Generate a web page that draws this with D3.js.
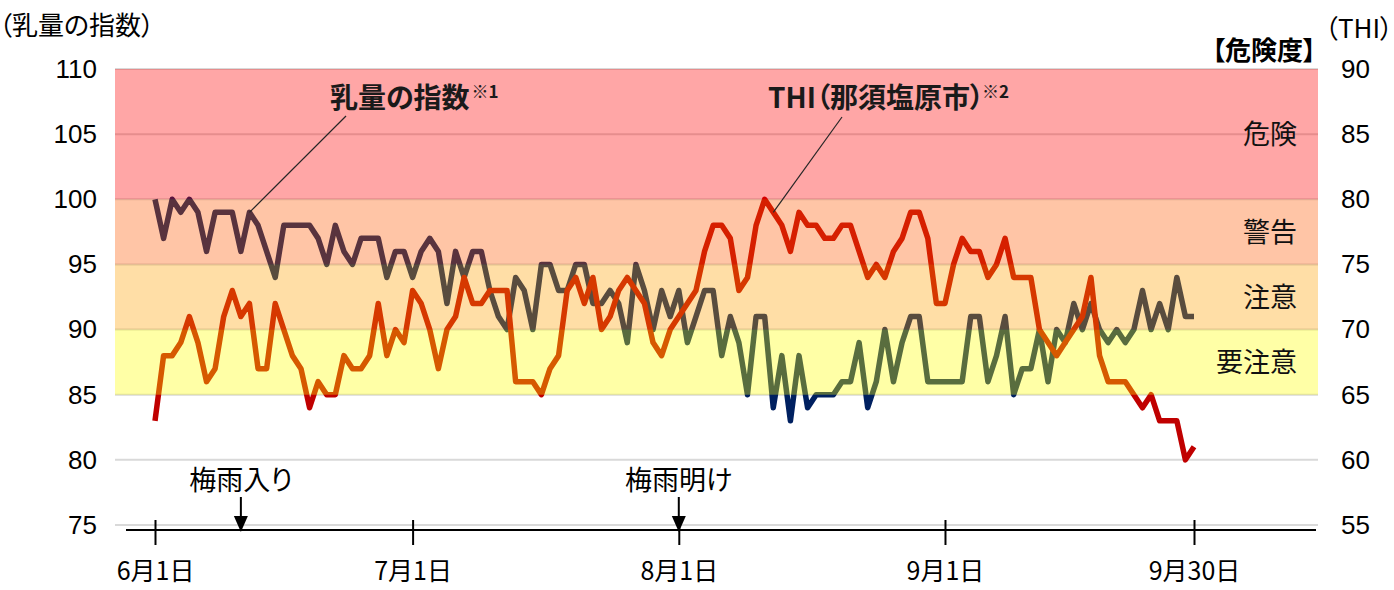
<!DOCTYPE html>
<html>
<head>
<meta charset="utf-8">
<script src="https://cdn.jsdelivr.net/npm/d3@7"></script>
<style>
  body { margin: 0; background: #fff; }
  svg text { font-feature-settings: "palt"; }
</style>
</head>
<body>
<div id="chart"></div>
<script>
var svgWidth = 1394;
var svgHeight = 590;

// daily values, Jun 1 .. Sep 30
var milkIndex = [
  100, 97, 100, 99, 100, 99, 96, 99, 99, 99,
  96, 99, 98, 96, 94, 98, 98, 98, 98, 97,
  95, 98, 96, 95, 97, 97, 97, 94, 96, 96,
  94, 96, 97, 96, 92, 96, 94, 96, 96, 93,
  91, 90, 94, 93, 90, 95, 95, 93, 93, 95,
  95, 92, 92, 93, 92, 89, 95, 93, 90, 93,
  91, 93, 89, 91, 93, 93, 88, 91, 89, 85,
  91, 91, 84, 88, 83, 88, 84, 85, 85, 85,
  86, 86, 89, 84, 86, 90, 86, 89, 91, 91,
  86, 86, 86, 86, 86, 91, 91, 86, 88, 91,
  85, 87, 87, 90, 86, 90, 89, 92, 90, 92,
  90, 89, 90, 89, 90, 93, 90, 92, 90, 94,
  91, 91
];

var thiValues = [
  63, 68, 68, 69, 71, 69, 66, 67, 71, 73,
  71, 72, 67, 67, 72, 70, 68, 67, 64, 66,
  65, 65, 68, 67, 67, 68, 72, 68, 70, 69,
  73, 72, 70, 67, 70, 71, 74, 72, 72, 73,
  73, 73, 66, 66, 66, 65, 67, 68, 73, 74,
  72, 74, 70, 71, 73, 74, 73, 72, 69, 68,
  70, 71, 72, 73, 76, 78, 78, 77, 73, 74,
  78, 80, 79, 78, 76, 79, 78, 78, 77, 77,
  78, 78, 76, 74, 75, 74, 76, 77, 79, 79,
  77, 72, 72, 75, 77, 76, 76, 74, 75, 77,
  74, 74, 74, 70, 69, 68, 69, 70, 71, 74,
  68, 66, 66, 66, 65, 64, 65, 63, 63, 63,
  60, 61
];

var leftTicks = [75, 80, 85, 90, 95, 100, 105, 110];
var rightTicks = [55, 60, 65, 70, 75, 80, 85, 90];

// risk levels (THI)
var riskLabels = ["危険", "警告", "注意", "要注意"];
var riskLow = [80, 75, 70, 65];
var riskHigh = [90, 80, 75, 70];
var riskColors = ["#ff0000", "#ff5a00", "#ffa000", "#ffff00"];

var dateTicks = ["2020-06-01", "2020-07-01", "2020-08-01", "2020-09-01", "2020-09-30"];
var eventLabels = ["梅雨入り", "梅雨明け"];
var eventDates = ["2020-06-11", "2020-08-01"];

var cjk = "'Noto Sans CJK JP', sans-serif";
var latin = "'Liberation Sans', Arial, sans-serif";

var plotLeft = 115, plotRight = 1318;

var parseDate = d3.utcParse("%Y-%m-%d");
var days = d3.utcDay.range(Date.UTC(2020, 5, 1), Date.UTC(2020, 9, 1));

var svg = d3.select("#chart")
  .append("svg")
  .attr("width", svgWidth)
  .attr("height", svgHeight);

var x = d3.scaleUtc()
  .domain([days[0], days[days.length - 1]])
  .range([155, 1194]);

var yLeft = d3.scaleLinear().domain([75, 110]).range([525, 69]);
var yRight = d3.scaleLinear().domain([55, 90]).range([525, 69]);

// gridlines
svg.append("g")
  .selectAll("line")
  .data(leftTicks)
  .enter()
  .append("line")
  .attr("x1", plotLeft)
  .attr("x2", plotRight)
  .attr("y1", d => yLeft(d))
  .attr("y2", d => yLeft(d))
  .attr("stroke", "#d9d9d9")
  .attr("stroke-width", 2);

// lines (bands are laid over them, which tints them)
var milkLine = d3.line()
  .x((d, i) => x(days[i]))
  .y(d => yLeft(d));

var thiLine = d3.line()
  .x((d, i) => x(days[i]))
  .y(d => yRight(d));

svg.append("path")
  .datum(milkIndex)
  .attr("d", milkLine)
  .attr("fill", "none")
  .attr("stroke", "#002060")
  .attr("stroke-width", 5.5)
  .attr("stroke-linejoin", "round");

svg.append("path")
  .datum(thiValues)
  .attr("d", thiLine)
  .attr("fill", "none")
  .attr("stroke", "#c00000")
  .attr("stroke-width", 5.5)
  .attr("stroke-linejoin", "round");

// risk bands
svg.append("g")
  .selectAll("rect")
  .data(riskLabels)
  .enter()
  .append("rect")
  .attr("x", plotLeft)
  .attr("width", plotRight - plotLeft)
  .attr("y", (d, i) => yRight(riskHigh[i]))
  .attr("height", (d, i) => yRight(riskLow[i]) - yRight(riskHigh[i]))
  .attr("fill", (d, i) => riskColors[i])
  .attr("fill-opacity", 0.35);

svg.append("g")
  .selectAll("text")
  .data(riskLabels)
  .enter()
  .append("text")
  .attr("x", 1297)
  .attr("y", (d, i) => yRight((riskLow[i] + riskHigh[i]) / 2) + 10)
  .attr("text-anchor", "end")
  .attr("font-family", cjk)
  .attr("font-size", "27px")
  .attr("fill", "#111")
  .text(d => d);

// y axes
var leftAxis = svg.append("g")
  .attr("transform", "translate(97,0)")
  .call(d3.axisLeft(yLeft).tickValues(leftTicks).tickSize(0).tickPadding(0));
leftAxis.select(".domain").remove();
leftAxis.selectAll("text")
  .attr("font-family", latin)
  .attr("font-size", "26px")
  .attr("fill", "#000");

var rightAxis = svg.append("g")
  .attr("transform", "translate(1341,0)")
  .call(d3.axisRight(yRight).tickValues(rightTicks).tickSize(0).tickPadding(0));
rightAxis.select(".domain").remove();
rightAxis.selectAll("text")
  .attr("font-family", latin)
  .attr("font-size", "26px")
  .attr("fill", "#000");

svg.append("text")
  .attr("x", -1)
  .attr("y", 35)
  .attr("font-family", cjk)
  .attr("font-size", "26px")
  .text("（乳量の指数）");

svg.append("text")
  .attr("x", 1393)
  .attr("y", 38)
  .attr("text-anchor", "end")
  .attr("font-family", cjk)
  .attr("font-size", "26px")
  .text("（THI）");

svg.append("text")
  .attr("x", 1316)
  .attr("y", 60)
  .attr("text-anchor", "end")
  .attr("font-family", cjk)
  .attr("font-size", "26px")
  .attr("font-weight", "bold")
  .text("【危険度】");

// x axis (date)
var dateAxis = svg.append("g")
  .attr("transform", "translate(0,530)");

dateAxis.append("line")
  .attr("x1", 126)
  .attr("x2", 1316)
  .attr("stroke", "#000")
  .attr("stroke-width", 2);

dateAxis.call(d3.axisBottom(x)
    .tickValues(dateTicks.map(parseDate))
    .tickFormat(d3.utcFormat("%-m月%-d日"))
    .tickSize(15)
    .tickPadding(17));
dateAxis.select(".domain").remove();
dateAxis.selectAll(".tick line")
  .attr("y1", -10)
  .attr("stroke", "#000")
  .attr("stroke-width", 2);
dateAxis.selectAll(".tick text")
  .attr("font-family", cjk)
  .attr("font-size", "25px")
  .attr("fill", "#000");

// rainy season markers
var events = svg.append("g")
  .selectAll("g")
  .data(eventLabels)
  .enter()
  .append("g")
  .attr("transform", (d, i) => `translate(${x(parseDate(eventDates[i]))},0)`);

events.append("text")
  .attr("y", 490)
  .attr("text-anchor", "middle")
  .attr("font-family", cjk)
  .attr("font-size", "27px")
  .text(d => d);

events.append("line")
  .attr("y1", 497)
  .attr("y2", 518)
  .attr("stroke", "#000")
  .attr("stroke-width", 2);

events.append("path")
  .attr("d", "M-7,516L7,516L0,532Z")
  .attr("fill", "#000");

// series annotations
var notes = svg.append("g")
  .attr("font-family", cjk)
  .attr("font-weight", "bold")
  .attr("fill", "#1a1a1a");

notes.append("line")
  .attr("x1", 346).attr("y1", 116)
  .attr("x2", x(days[11])).attr("y2", yLeft(milkIndex[11]))
  .attr("stroke", "#262626")
  .attr("stroke-width", 1.2);

notes.append("line")
  .attr("x1", 842).attr("y1", 117)
  .attr("x2", x(days[72])).attr("y2", yRight(thiValues[72]))
  .attr("stroke", "#262626")
  .attr("stroke-width", 1.2);

var milkNote = notes.append("text")
  .attr("x", 330)
  .attr("y", 108)
  .attr("font-size", "28px")
  .text("乳量の指数");
milkNote.append("tspan")
  .attr("font-size", "17px")
  .attr("dx", 2)
  .attr("dy", -10)
  .text("※1");

var thiNote = notes.append("text")
  .attr("x", 768)
  .attr("y", 108)
  .attr("font-size", "28px")
  .text("THI（那須塩原市）");
thiNote.append("tspan")
  .attr("font-size", "17px")
  .attr("dx", -2)
  .attr("dy", -10)
  .text("※2");
</script>
</body>
</html>
